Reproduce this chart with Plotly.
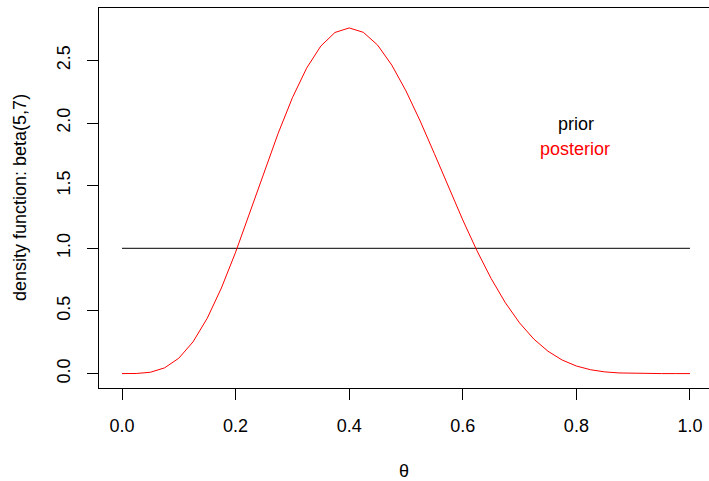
import plotly.graph_objects as go

# theta grid and posterior density values
theta = [0.000, 0.025, 0.050, 0.075, 0.100, 0.125, 0.150, 0.175, 0.200, 0.225,
         0.250, 0.275, 0.300, 0.325, 0.350, 0.375, 0.400, 0.425, 0.450, 0.475,
         0.500, 0.525, 0.550, 0.575, 0.600, 0.625, 0.650, 0.675, 0.700, 0.725,
         0.750, 0.775, 0.800, 0.825, 0.850, 0.875, 0.900, 0.925, 0.950, 0.975, 1.000]
posterior = [0.0000, 0.0008, 0.0106, 0.0458, 0.1228, 0.2531, 0.4411, 0.6831, 0.9688, 1.2828,
             1.6061, 1.9185, 2.2014, 2.4377, 2.6140, 2.7228, 2.7589, 2.7238, 2.6221, 2.4623,
             2.2559, 2.0156, 1.7553, 1.4881, 1.2262, 0.9802, 0.7580, 0.5651, 0.4043, 0.2760,
             0.1784, 0.1081, 0.0606, 0.0307, 0.0137, 0.0052, 0.0015, 0.0003, 0.0000, 0.0000, 0.0000]
prior_x = [0.0, 1.0]
prior_y = [1.0, 1.0]

x_ticks = [0.0, 0.2, 0.4, 0.6, 0.8, 1.0]
x_tick_labels = ["0.0", "0.2", "0.4", "0.6", "0.8", "1.0"]
y_ticks = [0.0, 0.5, 1.0, 1.5, 2.0, 2.5]
y_tick_labels = ["0.0", "0.5", "1.0", "1.5", "2.0", "2.5"]

legend_labels = ["prior", "posterior"]
legend_colors = ["black", "red"]

FONT = "Liberation Sans, Arial, sans-serif"
FS = 18

fig = go.Figure()
fig.add_trace(go.Scatter(x=prior_x, y=prior_y, mode="lines",
                         line=dict(color="black", width=1), showlegend=False,
                         hoverinfo="skip"))
fig.add_trace(go.Scatter(x=theta, y=posterior, mode="lines",
                         line=dict(color="red", width=1), showlegend=False,
                         hoverinfo="skip"))

# legend text (R legend without symbols)
fig.add_annotation(x=0.800, y=1.995, xref="x", yref="y", text=legend_labels[0],
                   showarrow=False, font=dict(color=legend_colors[0], size=FS, family=FONT))
fig.add_annotation(x=0.798, y=1.795, xref="x", yref="y", text=legend_labels[1],
                   showarrow=False, font=dict(color=legend_colors[1], size=FS, family=FONT))

# axis titles
fig.add_annotation(x=0.5, y=0, xref="paper", yref="paper", text="θ",
                   showarrow=False, yanchor="middle", yshift=-83,
                   font=dict(color="black", size=FS, family=FONT))
fig.add_annotation(x=0, y=0.5, xref="paper", yref="paper", text="density function: beta(5,7)",
                   showarrow=False, xanchor="center", xshift=-79, textangle=-90,
                   font=dict(color="black", size=FS, family=FONT))

fig.update_layout(
    width=709, height=481,
    margin=dict(l=99, r=0, t=8, b=93),
    paper_bgcolor="white", plot_bgcolor="white",
    font=dict(family=FONT, size=FS, color="black"),
    xaxis=dict(range=[-0.0405, 1.0335], tickvals=x_ticks, ticktext=x_tick_labels,
               showgrid=False, zeroline=False, showline=True, mirror=True,
               linecolor="black", linewidth=1, ticks="outside", ticklen=11,
               tickcolor="black", tickwidth=1, ticklabelstandoff=10),
    yaxis=dict(range=[-0.115, 2.918], tickvals=y_ticks, ticktext=y_tick_labels,
               showgrid=False, zeroline=False, showline=True, mirror=False,
               linecolor="black", linewidth=1, ticks="outside", ticklen=11,
               tickcolor="black", tickwidth=1, tickangle=-90, ticklabelstandoff=10),
)

fig.write_html("out.html", config={"displayModeBar": False},
               post_script="document.body.style.margin='0px';document.body.style.overflow='hidden';")
